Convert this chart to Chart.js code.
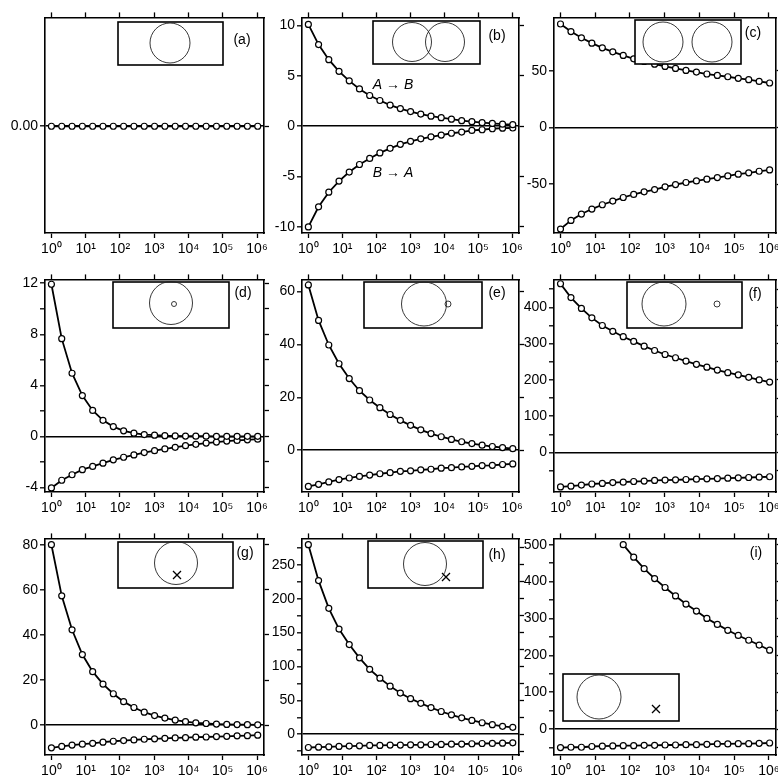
<!DOCTYPE html>
<html>
<head>
<meta charset="UTF-8">
<title>Panels (a)-(i)</title>
<script src="https://cdn.jsdelivr.net/npm/chart.js"></script>
<style>
  body { margin: 0; background: #fff; width: 778px; height: 783px; position: relative; overflow: hidden; }
  canvas { position: absolute; }
</style>
</head>
<body>
<script>
// x = 2^k, k = 0..20
const xValues = [1, 2, 4, 8, 16, 32, 64, 128, 256, 512, 1024, 2048, 4096, 8192,
                 16384, 32768, 65536, 131072, 262144, 524288, 1048576];
const decades = [1, 10, 100, 1000, 10000, 100000, 1000000];
const decadeLabels = ['10⁰', '10¹', '10²', '10³', '10⁴', '10⁵', '10⁶'];

// values
const seriesA = [0, 0, 0, 0, 0, 0, 0, 0, 0, 0, 0, 0, 0, 0, 0, 0, 0, 0, 0, 0, 0];
const upperB = [10.1, 8.1, 6.6, 5.45, 4.5, 3.7, 3.05, 2.55, 2.1, 1.75, 1.45, 1.2, 1.0, 0.85, 0.7, 0.55, 0.45, 0.35, 0.28, 0.2, 0.15];
const lowerB = [-10.0, -8.0, -6.55, -5.45, -4.55, -3.8, -3.2, -2.65, -2.2, -1.8, -1.5, -1.25, -1.05, -0.88, -0.7, -0.58, -0.42, -0.35, -0.25, -0.2, -0.18];
const upperC = [91.2, 84.5, 79, 74.3, 70.2, 66.7, 63.5, 60.5, 58.2, 55.8, 53.8, 52, 50.3, 48.8, 47.1, 45.9, 44.7, 43.3, 42.1, 40.6, 39.2];
const lowerC = [-89.5, -81.9, -76.3, -71.9, -68.1, -64.9, -61.7, -59, -56.7, -54.7, -52.3, -50.3, -48.5, -47.1, -45.6, -44.2, -42.7, -41.2, -40, -38.6, -37.4];
const upperD = [11.92, 7.66, 4.95, 3.2, 2.04, 1.26, 0.77, 0.44, 0.26, 0.15, 0.1, 0.06, 0.04, 0.03, 0.02, 0.02, 0.01, 0.01, 0.01, 0.01, 0.01];
const lowerD = [-4.03, -3.43, -3.0, -2.6, -2.35, -2.09, -1.83, -1.63, -1.45, -1.26, -1.11, -0.98, -0.85, -0.72, -0.62, -0.52, -0.44, -0.36, -0.31, -0.26, -0.21];
const upperE = [62.5, 49.1, 39.8, 32.7, 27.1, 22.5, 19.0, 16.1, 13.5, 11.3, 9.4, 7.7, 6.3, 5.1, 4.1, 3.2, 2.5, 1.9, 1.4, 1.0, 0.6];
const lowerE = [-13.7, -12.9, -12.0, -11.1, -10.5, -9.9, -9.4, -8.9, -8.5, -8.0, -7.8, -7.4, -7.2, -6.8, -6.6, -6.3, -6.1, -5.8, -5.7, -5.4, -5.2];
const upperF = [465, 427, 397, 371, 350, 334, 319, 306, 293, 281, 270, 261, 252, 243, 235, 227, 220, 214, 207, 200, 194];
const lowerF = [-95, -93, -90, -87, -85.5, -83, -82, -80, -79, -77, -76, -75.5, -74.5, -73.6, -72.7, -72, -71, -70, -69, -68, -67];
const upperG = [80.1, 57.4, 42.3, 31.3, 23.7, 18.2, 13.9, 10.4, 7.8, 5.7, 4.2, 3.1, 2.2, 1.5, 1.0, 0.7, 0.45, 0.3, 0.2, 0.15, 0.1];
const lowerG = [-10.1, -9.5, -8.9, -8.5, -8.1, -7.6, -7.2, -6.9, -6.6, -6.3, -6.1, -5.9, -5.7, -5.6, -5.4, -5.3, -5.1, -5.0, -4.8, -4.7, -4.5];
const upperH = [279.7, 226.7, 185.8, 155.2, 132.3, 112.8, 95.8, 82.7, 71.0, 60.8, 52.5, 45.7, 39.4, 33.6, 28.7, 24.3, 20.4, 17.0, 14.1, 11.7, 10.2];
const lowerH = [-19.5, -19, -18.5, -18, -17.5, -17, -16.5, -16.5, -16, -16, -15.6, -15.6, -15.1, -15, -14.6, -14.5, -14, -13.6, -13.5, -13.1, -12.6];
const upperI = [null, null, null, null, null, null, 500, 466, 435, 408, 384, 361, 339, 320, 300, 284, 268, 254, 241, 228, 214];
const lowerI = [-50, -49, -49, -47, -46, -45.5, -44.6, -44.6, -43.8, -43.8, -42.9, -42.9, -42, -42, -41, -40, -40, -39.3, -39.3, -38.4, -37.5];

// y ticks per panel (marks) and which of them get a label
const ticksA = [0],  labelsA = [0];
const ticksB = [-10, -5, 0, 5, 10], labelsB = [-10, -5, 0, 5, 10];
const ticksC = [-50, 0, 50], labelsC = [-50, 0, 50];
const ticksD = [-4, -2, 0, 2, 4, 6, 8, 10, 12], labelsD = [-4, 0, 4, 8, 12];
const ticksE = [0, 20, 40, 60], labelsE = [0, 20, 40, 60];
const ticksF = [-50, 0, 50, 100, 150, 200, 250, 300, 350, 400, 450], labelsF = [0, 100, 200, 300, 400];
const ticksG = [0, 20, 40, 60, 80], labelsG = [0, 20, 40, 60, 80];
const ticksH = [-25, 0, 25, 50, 75, 100, 125, 150, 175, 200, 225, 250, 275], labelsH = [0, 50, 100, 150, 200, 250];
const ticksI = [-50, 0, 50, 100, 150, 200, 250, 300, 350, 400, 450, 500], labelsI = [0, 100, 200, 300, 400, 500];

// layout (page pixels): plot boxes
const cols = [[45, 264], [302, 519], [554, 776]];
const rows = [[15, 233], [277, 492], [536, 755]];
const AX_L = 44, AX_R = 8, AX_T = 8, AX_B = 30;
const FONT = '"Liberation Sans", Arial, sans-serif';

Chart.defaults.font.family = FONT;
Chart.defaults.color = '#000';

const panels = [
  { tag: '(a)', col: 0, row: 0, series: [seriesA], yMin: -1, yMax: 1.02, ticks: ticksA, labels: labelsA, fmt: v => v.toFixed(2),
    inset: { rect: [118, 22, 223, 65], circles: [[170, 43, 20, 20]], tagAt: [242, 40] } },
  { tag: '(b)', col: 1, row: 0, series: [upperB, lowerB], yMin: -10.6, yMax: 10.8, ticks: ticksB, labels: labelsB, fmt: v => String(v),
    inset: { rect: [373, 21, 480, 64], circles: [[412, 42, 19.5, 19.5], [445, 42, 19.5, 19.5]], tagAt: [497, 36] },
    texts: [['A → B', 393, 85], ['B → A', 393, 173]] },
  { tag: '(c)', col: 2, row: 0, series: [upperC, lowerC], yMin: -93, yMax: 97, ticks: ticksC, labels: labelsC, fmt: v => String(v),
    inset: { rect: [635, 20, 741, 64], circles: [[663, 42, 20, 20], [712, 42, 20, 20]], tagAt: [753, 33] } },
  { tag: '(d)', col: 0, row: 1, series: [upperD, lowerD], yMin: -4.35, yMax: 12.3, ticks: ticksD, labels: labelsD, fmt: v => String(v),
    inset: { rect: [113, 282, 229, 328], circles: [[171, 303, 21.5, 21.5], [174, 304, 2.5, 2.5]], tagAt: [243, 293] } },
  { tag: '(e)', col: 1, row: 1, series: [upperE, lowerE], yMin: -15.8, yMax: 64.6, ticks: ticksE, labels: labelsE, fmt: v => String(v),
    inset: { rect: [364, 282, 482, 328], circles: [[424, 304, 22.5, 22], [448, 304, 3, 3]], tagAt: [497, 293] } },
  { tag: '(f)', col: 2, row: 1, series: [upperF, lowerF], yMin: -109, yMax: 477, ticks: ticksF, labels: labelsF, fmt: v => String(v),
    inset: { rect: [627, 282, 742, 328], circles: [[664, 304, 22, 22], [717, 304, 3, 3]], tagAt: [755, 294] } },
  { tag: '(g)', col: 0, row: 2, series: [upperG, lowerG], yMin: -13.3, yMax: 82.9, ticks: ticksG, labels: labelsG, fmt: v => String(v),
    inset: { rect: [118, 542, 233, 588], circles: [[176, 563, 21.5, 21.5]], cross: [177, 575], tagAt: [245, 553] } },
  { tag: '(h)', col: 1, row: 2, series: [upperH, lowerH], yMin: -30.6, yMax: 289, ticks: ticksH, labels: labelsH, fmt: v => String(v),
    inset: { rect: [368, 541, 483, 588], circles: [[425, 564, 21.5, 21.5]], cross: [446, 577], tagAt: [497, 555] } },
  { tag: '(i)', col: 2, row: 2, series: [upperI, lowerI], yMin: -70, yMax: 517, ticks: ticksI, labels: labelsI, fmt: v => String(v),
    inset: { rect: [563, 674, 679, 721], circles: [[599, 697, 22, 22]], cross: [656, 709], tagAt: [756, 553] } }
];

// draws the little inset sketches, panel tags and annotations (page coords shifted into the canvas)
const insetPlugin = {
  id: 'inset',
  afterDraw(chart, args, opts) {
    const p = opts.panel, ox = opts.ox, oy = opts.oy, ctx = chart.ctx;
    const ins = p.inset;
    ctx.save();
    ctx.strokeStyle = '#000';
    ctx.fillStyle = '#fff';
    ctx.lineWidth = 1.6;
    const r = ins.rect;
    ctx.fillRect(r[0] - ox, r[1] - oy, r[2] - r[0], r[3] - r[1]);
    ctx.strokeRect(r[0] - ox, r[1] - oy, r[2] - r[0], r[3] - r[1]);
    ctx.lineWidth = 0.9;
    ctx.strokeStyle = '#222';
    ins.circles.forEach(c => {
      ctx.beginPath();
      ctx.ellipse(c[0] - ox, c[1] - oy, c[2], c[3], 0, 0, Math.PI * 2);
      ctx.stroke();
    });
    if (ins.cross) {
      const cx = ins.cross[0] - ox, cy = ins.cross[1] - oy, s = 4;
      ctx.lineWidth = 1.3;
      ctx.strokeStyle = '#000';
      ctx.beginPath();
      ctx.moveTo(cx - s, cy - s); ctx.lineTo(cx + s, cy + s);
      ctx.moveTo(cx + s, cy - s); ctx.lineTo(cx - s, cy + s);
      ctx.stroke();
    }
    ctx.fillStyle = '#000';
    ctx.font = '14px ' + FONT;
    ctx.textAlign = 'center';
    ctx.textBaseline = 'middle';
    ctx.fillText(p.tag, ins.tagAt[0] - ox, ins.tagAt[1] - oy);
    if (p.texts) {
      ctx.font = 'italic 14px ' + FONT;
      p.texts.forEach(t => ctx.fillText(t[0], t[1] - ox, t[2] - oy));
    }
    ctx.restore();
  }
};

function makePanel(p) {
  const L = cols[p.col][0], R = cols[p.col][1];
  const T = rows[p.row][0], B = rows[p.row][1];
  const ox = L - AX_L, oy = T - AX_T;
  const W = R - L + AX_L + AX_R, H = B - T + AX_T + AX_B;
  const cv = document.createElement('canvas');
  cv.width = W; cv.height = H;
  cv.style.left = ox + 'px'; cv.style.top = oy + 'px';
  cv.style.width = W + 'px'; cv.style.height = H + 'px';
  document.body.appendChild(cv);

  const border = { color: '#000', width: 1.6 };
  const xCommon = {
    type: 'logarithmic', min: 0.65, max: 1.6e6,
    afterBuildTicks: s => { s.ticks = decades.map(v => ({ value: v })); },
    grid: { drawOnChartArea: false, tickLength: 5, tickColor: '#000', tickWidth: 1.3 },
    border: border
  };
  const yCommon = {
    type: 'linear', min: p.yMin, max: p.yMax,
    afterBuildTicks: s => { s.ticks = p.ticks.map(v => ({ value: v })); },
    border: border
  };

  new Chart(cv, {
    type: 'line',
    data: {
      datasets: p.series.map(arr => ({
        data: xValues.map((x, i) => ({ x: x, y: arr[i] })),
        borderColor: '#000',
        borderWidth: 1.8,
        pointRadius: 3,
        pointBackgroundColor: '#fff',
        pointBorderColor: '#000',
        pointBorderWidth: 1.2,
        tension: 0,
        xAxisID: 'x', yAxisID: 'y'
      }))
    },
    options: {
      responsive: false,
      animation: false,
      events: [],
      layout: { padding: 0 },
      plugins: { legend: { display: false }, tooltip: { enabled: false }, inset: { panel: p, ox: ox, oy: oy } },
      scales: {
        x: Object.assign({}, xCommon, {
          position: 'bottom',
          afterFit: s => { s.height = AX_B; },
          ticks: {
            autoSkip: false, maxRotation: 0, padding: 3, color: '#000',
            font: { size: 14, family: FONT },
            callback: v => decadeLabels[Math.round(Math.log10(v))]
          }
        }),
        x2: Object.assign({}, xCommon, {
          position: 'top',
          afterFit: s => { s.height = AX_T; },
          ticks: { display: false }
        }),
        y: Object.assign({}, yCommon, {
          position: 'left',
          afterFit: s => { s.width = AX_L; },
          ticks: {
            autoSkip: false, padding: 2, color: '#000', font: { size: 14, family: FONT },
            callback: v => p.labels.includes(v) ? p.fmt(v) : ''
          },
          grid: {
            drawOnChartArea: true,
            color: c => (c.tick && c.tick.value === 0) ? '#000' : 'rgba(0,0,0,0)',
            lineWidth: 1.6,
            tickLength: 5, tickColor: '#000', tickWidth: 1.3
          }
        }),
        y2: Object.assign({}, yCommon, {
          position: 'right',
          afterFit: s => { s.width = AX_R; },
          ticks: { display: false, autoSkip: false },
          grid: { drawOnChartArea: false, tickLength: 5, tickColor: '#000', tickWidth: 1.3 }
        })
      }
    },
    plugins: [insetPlugin]
  });
}

panels.forEach(makePanel);
</script>
</body>
</html>
